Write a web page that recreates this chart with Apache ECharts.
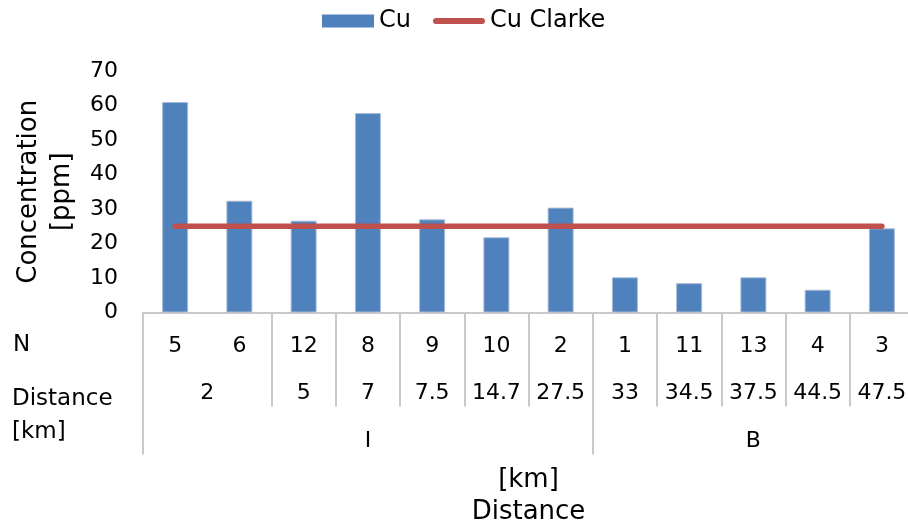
<!DOCTYPE html>
<html>
<head>
<meta charset="utf-8">
<script src="https://cdn.jsdelivr.net/npm/echarts@6/dist/echarts.min.js"></script>
<style>
html,body{margin:0;padding:0;background:#fff;}
#main{width:908px;height:529px;}
</style>
</head>
<body>
<div id="main"></div>
<script>
// ---- data ----
var nLabels = ['5','6','12','8','9','10','2','1','11','13','4','3'];
var distanceLabels = ['2','5','7','7.5','14.7','27.5','33','34.5','37.5','44.5','47.5'];
var distanceCounts = [2,1,1,1,1,1,1,1,1,1,1];
var groupLabels = ['I','B'];
var groupCounts = [7,5];
var cuValues = [61, 32.4, 26.6, 57.8, 27, 21.8, 30.4, 10.2, 8.5, 10.2, 6.6, 24.4];
var clarkeValues = [25,25,25,25,25,25,25,25,25,25,25,25];
var yTicks = {min:0, max:70, interval:10};

// ---- derived helpers ----
function spans(labels, counts){
  var starts = [], centers = {}, s = 0;
  for (var i=0;i<labels.length;i++){
    starts.push(s);
    centers[String(s + (counts[i]-1)/2)] = labels[i];
    s += counts[i];
  }
  return {starts:starts, centers:centers};
}
var distSpans = spans(distanceLabels, distanceCounts);
var groupSpans = spans(groupLabels, groupCounts);

var FONT = 'DejaVu Sans';
var gray = '#c9c9c9';
var chart = echarts.init(document.getElementById('main'));
var n = nLabels.length;

chart.setOption({
  animation:false,
  backgroundColor:'#fff',
  legend:{
    left:317, top:4, itemWidth:52, itemHeight:13, itemGap:22,
    itemStyle:{borderWidth:0},
    textStyle:{fontFamily:FONT, fontSize:24, color:'#000'},
    data:[
      {name:'Cu', icon:'rect'},
      {name:'Cu Clarke', icon:'path://M3,0 L49,0 A3,3 0 0 1 49,6 L3,6 A3,3 0 0 1 3,0 Z'}
    ]
  },
  grid:{left:143, top:71, width:771, height:241.5, containLabel:false, outerBoundsMode:'none'},
  yAxis:{
    type:'value', min:yTicks.min, max:yTicks.max, interval:yTicks.interval,
    axisLine:{show:false}, axisTick:{show:false}, splitLine:{show:false},
    axisLabel:{fontFamily:FONT, fontSize:22, color:'#000', margin:25},
    name:'Concentration\n[ppm]', nameLocation:'middle', nameRotate:90, nameGap:61,
    nameTextStyle:{fontFamily:FONT, fontSize:26, color:'#000', lineHeight:33}
  },
  xAxis:[
    { // N row + distance separators
      type:'category', data:nLabels, position:'bottom',
      axisLine:{show:true, lineStyle:{color:gray, width:2}},
      axisTick:{show:true, length:94, interval:function(i){return distSpans.starts.indexOf(i) >= 0;}, lineStyle:{color:gray, width:2}},
      axisLabel:{interval:0, fontFamily:FONT, fontSize:22, color:'#000', margin:23}
    },
    { // group separators
      type:'category', data:nLabels, position:'bottom',
      axisLine:{show:false},
      axisTick:{show:true, length:142, interval:function(i){return groupSpans.starts.indexOf(i) >= 0;}, lineStyle:{color:gray, width:2}},
      axisLabel:{show:false}
    },
    { // distance labels
      type:'value', position:'bottom', min:-0.5, max:n-0.5, interval:0.5,
      axisLine:{show:false}, axisTick:{show:false}, splitLine:{show:false},
      axisLabel:{fontFamily:FONT, fontSize:22, color:'#000', margin:70,
        showMinLabel:true, showMaxLabel:true,
        formatter:function(v){ var k=String(v); return distSpans.centers.hasOwnProperty(k)? distSpans.centers[k] : ''; }}
    },
    { // group labels + axis title
      type:'value', position:'bottom', min:-0.5, max:n-0.5, interval:0.5,
      axisLine:{show:false}, axisTick:{show:false}, splitLine:{show:false},
      axisLabel:{fontFamily:FONT, fontSize:22, color:'#000', margin:118,
        formatter:function(v){ var k=String(v); return groupSpans.centers.hasOwnProperty(k)? groupSpans.centers[k] : ''; }},
      name:'[km]\nDistance', nameLocation:'middle', nameGap:152,
      nameTextStyle:{fontFamily:FONT, fontSize:26, color:'#000', lineHeight:32}
    }
  ],
  graphic:[
    {type:'text', left:13, top:334, style:{text:'N', font:'23px "DejaVu Sans"', fill:'#000'}},
    {type:'text', left:12, top:388, style:{text:'Distance', font:'23px "DejaVu Sans"', fill:'#000'}},
    {type:'text', left:12, top:421, style:{text:'[km]', font:'23px "DejaVu Sans"', fill:'#000'}}
  ],
  series:[
    {
      name:'Cu', type:'bar', xAxisIndex:0, data:cuValues, barWidth:26,
      itemStyle:{color:'#4f81bd', borderColor:'#a9bbd3', borderWidth:1}
    },
    {
      name:'Cu Clarke', type:'line', xAxisIndex:0, data:clarkeValues,
      symbol:'none', lineStyle:{color:'#c0504d', width:5.5, cap:'round'}, itemStyle:{color:'#c0504d'}, z:5
    }
  ]
});
</script>
</body>
</html>
